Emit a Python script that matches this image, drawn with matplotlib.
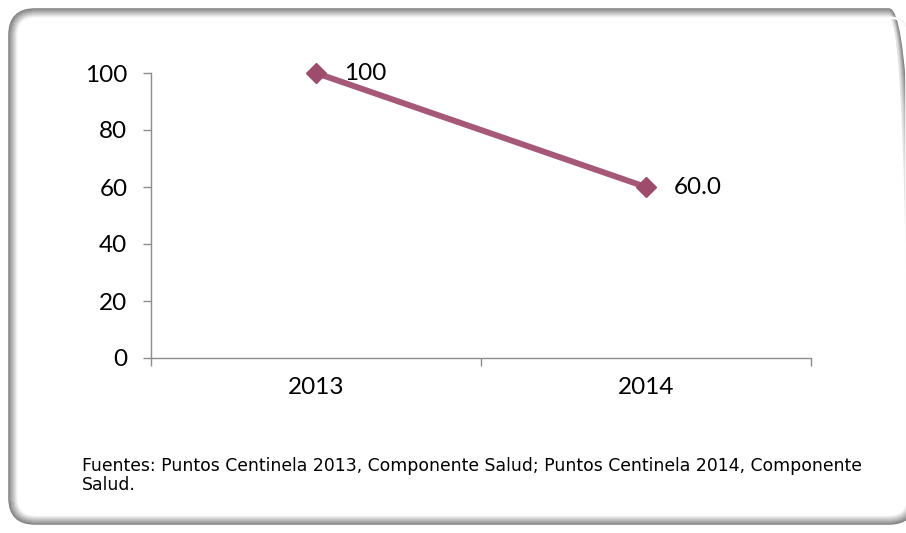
import matplotlib
matplotlib.use("Agg")
import matplotlib.pyplot as plt
from matplotlib.patches import FancyBboxPatch
from matplotlib.transforms import IdentityTransform
from matplotlib.ticker import FixedLocator, NullFormatter, FixedFormatter

# datos
anios = ["2013", "2014"]
valores = [100, 60.0]
etiquetas = ["100", "60.0"]
fuente = ("Fuentes: Puntos Centinela 2013, Componente Salud; Puntos Centinela 2014, Componente\n"
          "Salud.")

plt.rcParams['font.family'] = ['Lato', 'DejaVu Sans']

W, H = 906, 533
fig = plt.figure(figsize=(W / 100, H / 100), dpi=100)
fig.patch.set_facecolor("white")

# marco redondeado con sombra interior
x0, y0, x1, y1 = 9, 9, 915, 524
for i in range(10):
    g = 0.50 + i * 0.055
    caja = FancyBboxPatch((x0 + i, y0 + i), (x1 - x0) - 2 * i, (y1 - y0) - 2 * i,
                          boxstyle="round,pad=0,rounding_size=%d" % max(26 - i, 4),
                          facecolor="none", edgecolor=(g, g, g), linewidth=1.1,
                          transform=IdentityTransform())
    fig.patches.append(caja)

ax = fig.add_axes([151 / W, (H - 358) / H, 660 / W, 285 / H])
ax.set_facecolor("none")

color = "#a65878"
xs = list(range(len(anios)))
ax.plot(xs, valores, color=color, linewidth=4.3, marker="D", markersize=10,
        markerfacecolor="#9e4c6c", markeredgecolor="#9e4c6c", solid_capstyle="butt",
        clip_on=False, zorder=5)

for x, v, t in zip(xs, valores, etiquetas):
    ax.annotate(t, (x, v), xytext=(20, 0), textcoords="offset points",
                ha="left", va="center", fontsize=17.5, color="black", zorder=6)

ax.set_xlim(-0.5, len(anios) - 0.5)
ax.set_ylim(0, 100)
ax.set_yticks([0, 20, 40, 60, 80, 100])

ax.xaxis.set_major_locator(FixedLocator([-0.5, 0.5, 1.5]))
ax.xaxis.set_major_formatter(NullFormatter())
ax.xaxis.set_minor_locator(FixedLocator(xs))
ax.xaxis.set_minor_formatter(FixedFormatter(anios))
ax.tick_params(axis="x", which="major", length=6, width=1, color="#8c8c8c", direction="out")
ax.tick_params(axis="x", which="minor", length=0, pad=14, labelsize=17.5)
ax.tick_params(axis="y", length=6, width=1, color="#8c8c8c", direction="out", pad=11, labelsize=17.5)

for s in ["top", "right"]:
    ax.spines[s].set_visible(False)
for s in ["left", "bottom"]:
    ax.spines[s].set_color("#8c8c8c")
    ax.spines[s].set_linewidth(1)

fig.text(82 / W, 1 - 457 / H, fuente, ha="left", va="top", fontsize=12.45,
         family="DejaVu Sans", linespacing=1.05, color="black")

fig.savefig("out.png", dpi=100)
